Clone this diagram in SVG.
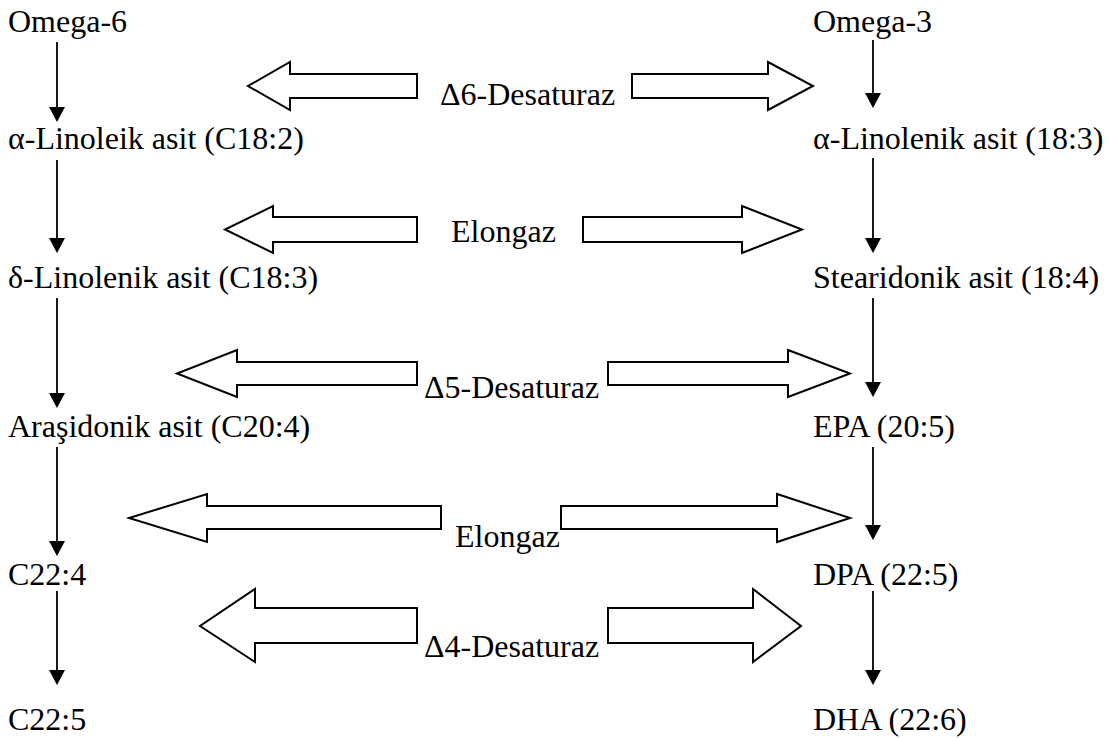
<svg xmlns="http://www.w3.org/2000/svg" width="1112" height="738" viewBox="0 0 1112 738">
  <style>
    .lbl { font-family: "Liberation Serif", "DejaVu Serif", "Noto Serif", serif; font-size: 32px; fill: #000; }
    .step { stroke: #000; stroke-width: 1.8; fill: none; marker-end: url(#head); }
    .block { fill: #fff; stroke: #000; stroke-width: 2; stroke-linejoin: miter; }
  </style>
  <defs>
    <marker id="head" markerUnits="userSpaceOnUse" markerWidth="16" markerHeight="16" refX="11" refY="8" orient="auto">
      <path d="M0,0 L15,8 L0,16 z" fill="#000"/>
    </marker>
  </defs>

  <rect width="1112" height="738" fill="#fff"/>

  <!-- omega-6 series -->
  <g id="omega6"><text class="lbl" font-family="Liberation Serif, serif" x="8" y="32">Omega-6</text></g>
  <g id="linoleik"><text class="lbl" font-family="Liberation Serif, serif" x="8" y="149">α-Linoleik asit (C18:2)</text></g>
  <g id="g-linolenik"><text class="lbl" font-family="Liberation Serif, serif" x="8" y="288">δ-Linolenik asit (C18:3)</text></g>
  <g id="arasidonik"><text class="lbl" font-family="Liberation Serif, serif" x="8" y="437">Araşidonik asit (C20:4)</text></g>
  <g id="c22-4"><text class="lbl" font-family="Liberation Serif, serif" x="8" y="585">C22:4</text></g>
  <g id="c22-5"><text class="lbl" font-family="Liberation Serif, serif" x="8" y="730">C22:5</text></g>

  <!-- omega-3 series -->
  <g id="omega3"><text class="lbl" font-family="Liberation Serif, serif" x="813" y="32">Omega-3</text></g>
  <g id="a-linolenik"><text class="lbl" font-family="Liberation Serif, serif" x="813" y="149">α-Linolenik asit (18:3)</text></g>
  <g id="stearidonik"><text class="lbl" font-family="Liberation Serif, serif" x="813" y="288">Stearidonik asit (18:4)</text></g>
  <g id="epa"><text class="lbl" font-family="Liberation Serif, serif" x="813" y="437">EPA (20:5)</text></g>
  <g id="dpa"><text class="lbl" font-family="Liberation Serif, serif" x="813" y="585">DPA (22:5)</text></g>
  <g id="dha"><text class="lbl" font-family="Liberation Serif, serif" x="813" y="730">DHA (22:6)</text></g>

  <!-- enzymes with their two-way block arrows -->
  <g id="d6-desaturaz">
    <path class="block" d="M417,74 L290,74 L290,62 L248,86 L290,110 L290,98 L417,98 Z"/>
    <path class="block" d="M632,74 L768,74 L768,62 L813,86 L768,110 L768,98 L632,98 Z"/>
    <text class="lbl" font-family="Liberation Serif, serif" x="440" y="105">Δ6-Desaturaz</text>
  </g>
  <g id="elongaz-1">
    <path class="block" d="M417,217 L273,217 L273,206 L225,229.5 L273,253 L273,242 L417,242 Z"/>
    <path class="block" d="M583,217 L742,217 L742,206 L802,229.5 L742,253 L742,242 L583,242 Z"/>
    <text class="lbl" font-family="Liberation Serif, serif" x="451" y="242">Elongaz</text>
  </g>
  <g id="d5-desaturaz">
    <path class="block" d="M417,362 L237,362 L237,350 L177,373.5 L237,397 L237,385 L417,385 Z"/>
    <path class="block" d="M608,362 L788,362 L788,350 L850,373.5 L788,397 L788,385 L608,385 Z"/>
    <text class="lbl" font-family="Liberation Serif, serif" x="424" y="398">Δ5-Desaturaz</text>
  </g>
  <g id="elongaz-2">
    <path class="block" d="M441,506 L207,506 L207,494 L129,518 L207,542 L207,529 L441,529 Z"/>
    <path class="block" d="M561,506 L777,506 L777,494 L850,518 L777,542 L777,529 L561,529 Z"/>
    <text class="lbl" font-family="Liberation Serif, serif" x="455" y="547">Elongaz</text>
  </g>
  <g id="d4-desaturaz">
    <path class="block" d="M417,608 L255,608 L255,589 L200,626 L255,662 L255,643 L417,643 Z"/>
    <path class="block" d="M608,608 L753,608 L753,589 L801,626 L753,662 L753,643 L608,643 Z"/>
    <text class="lbl" font-family="Liberation Serif, serif" x="424" y="657">Δ4-Desaturaz</text>
  </g>

  <!-- conversion steps down each column -->
  <g id="connectors">
    <line class="step" x1="57" y1="42" x2="57" y2="118"/>
    <line class="step" x1="57" y1="160" x2="57" y2="249"/>
    <line class="step" x1="57" y1="298" x2="57" y2="404"/>
    <line class="step" x1="57" y1="447" x2="57" y2="552"/>
    <line class="step" x1="57" y1="591" x2="57" y2="681"/>

    <line class="step" x1="873" y1="40" x2="873" y2="104"/>
    <line class="step" x1="873" y1="158" x2="873" y2="249"/>
    <line class="step" x1="873" y1="298" x2="873" y2="393"/>
    <line class="step" x1="873" y1="447" x2="873" y2="536"/>
    <line class="step" x1="873" y1="591" x2="873" y2="681"/>
  </g>
</svg>
